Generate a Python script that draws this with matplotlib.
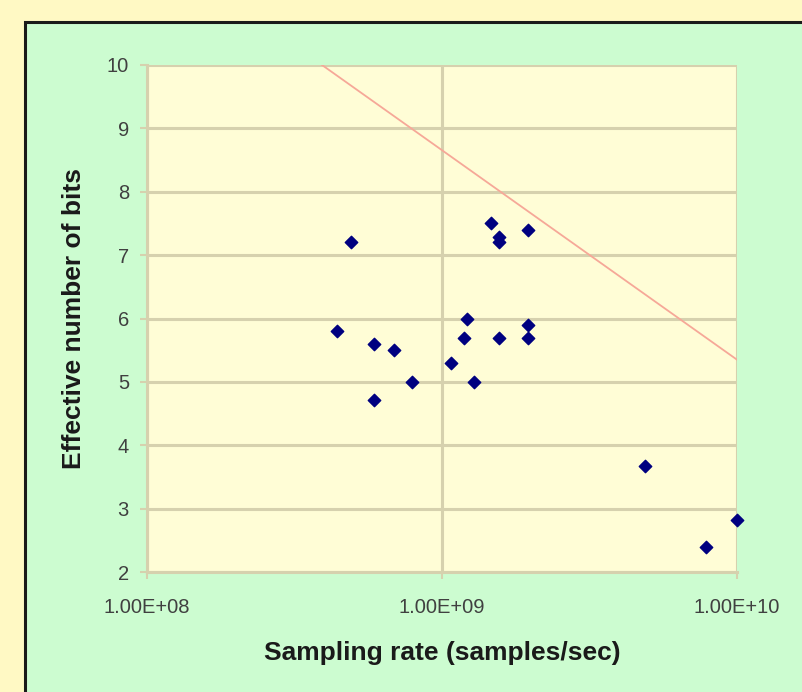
import numpy as np
import matplotlib
matplotlib.use('Agg')
import matplotlib.pyplot as plt
from matplotlib.patches import Rectangle

# data
rate = [4.4e8, 4.9e8, 5.9e8, 5.9e8, 6.9e8, 7.9e8, 1.07e9, 1.19e9, 1.22e9, 1.28e9,
        1.47e9, 1.56e9, 1.56e9, 1.56e9, 1.96e9, 1.96e9, 1.96e9, 4.87e9, 7.85e9, 1.0e10]
enob = [5.8, 7.2, 5.6, 4.72, 5.5, 5.0, 5.3, 5.7, 6.0, 5.0,
        7.5, 7.28, 7.2, 5.7, 7.4, 5.9, 5.7, 3.67, 2.4, 2.82]
line_x = [3.92e8, 1.0e10]
line_y = [10.0, 5.35]
yticks = [2, 3, 4, 5, 6, 7, 8, 9, 10]
xticks = [1e8, 1e9, 1e10]
xticklabels = ['1.00E+08', '1.00E+09', '1.00E+10']

plt.rcParams['font.family'] = ['Liberation Sans', 'DejaVu Sans']

fig = plt.figure(figsize=(8.02, 6.92), dpi=100)
fig.patch.set_facecolor('#FFF9C4')
# green chart panel
fig.patches.append(Rectangle((25/802, -0.1), 1.0, 1 - 22/692 + 0.1, transform=fig.transFigure,
                             facecolor='#CCFCD0', edgecolor='#1a1a1a', linewidth=2.2, zorder=-5))

ax = fig.add_axes([147/802, 1 - 572/692, 590/802, 507/692])
ax.set_facecolor('#FFFDD6')
ax.set_xscale('log')
ax.set_xlim(1e8, 1e10)
ax.set_ylim(2, 10)
ax.set_yticks(yticks)
ax.set_xticks(xticks)
ax.set_xticklabels(xticklabels)
ax.minorticks_off()
ax.grid(True, color='#D6D1AE', linewidth=2.2)
ax.set_axisbelow(True)
for s in ['top', 'right']:
    ax.spines[s].set_visible(False)
for s in ['left', 'bottom']:
    ax.spines[s].set_color('#D6D1AE')
    ax.spines[s].set_linewidth(2.2)
ax.tick_params(colors='#D6D1AE', width=1.5, length=5, labelcolor='#404040', labelsize=14.5)
ax.tick_params(axis='y', pad=8)
ax.tick_params(axis='x', pad=14)

ax.plot(line_x, line_y, color='#F6A898', linewidth=1.3, clip_on=True)
ax.scatter(rate, enob, marker='D', s=40, color='#000080', zorder=3, clip_on=False)

ax.set_xlabel('Sampling rate (samples/sec)', fontsize=19, fontweight='bold', color='#1a1a1a', labelpad=17)
ax.set_ylabel('Effective number of bits', fontsize=19, fontweight='bold', color='#1a1a1a', labelpad=15)

fig.savefig('out.png', dpi=100, facecolor=fig.get_facecolor())
